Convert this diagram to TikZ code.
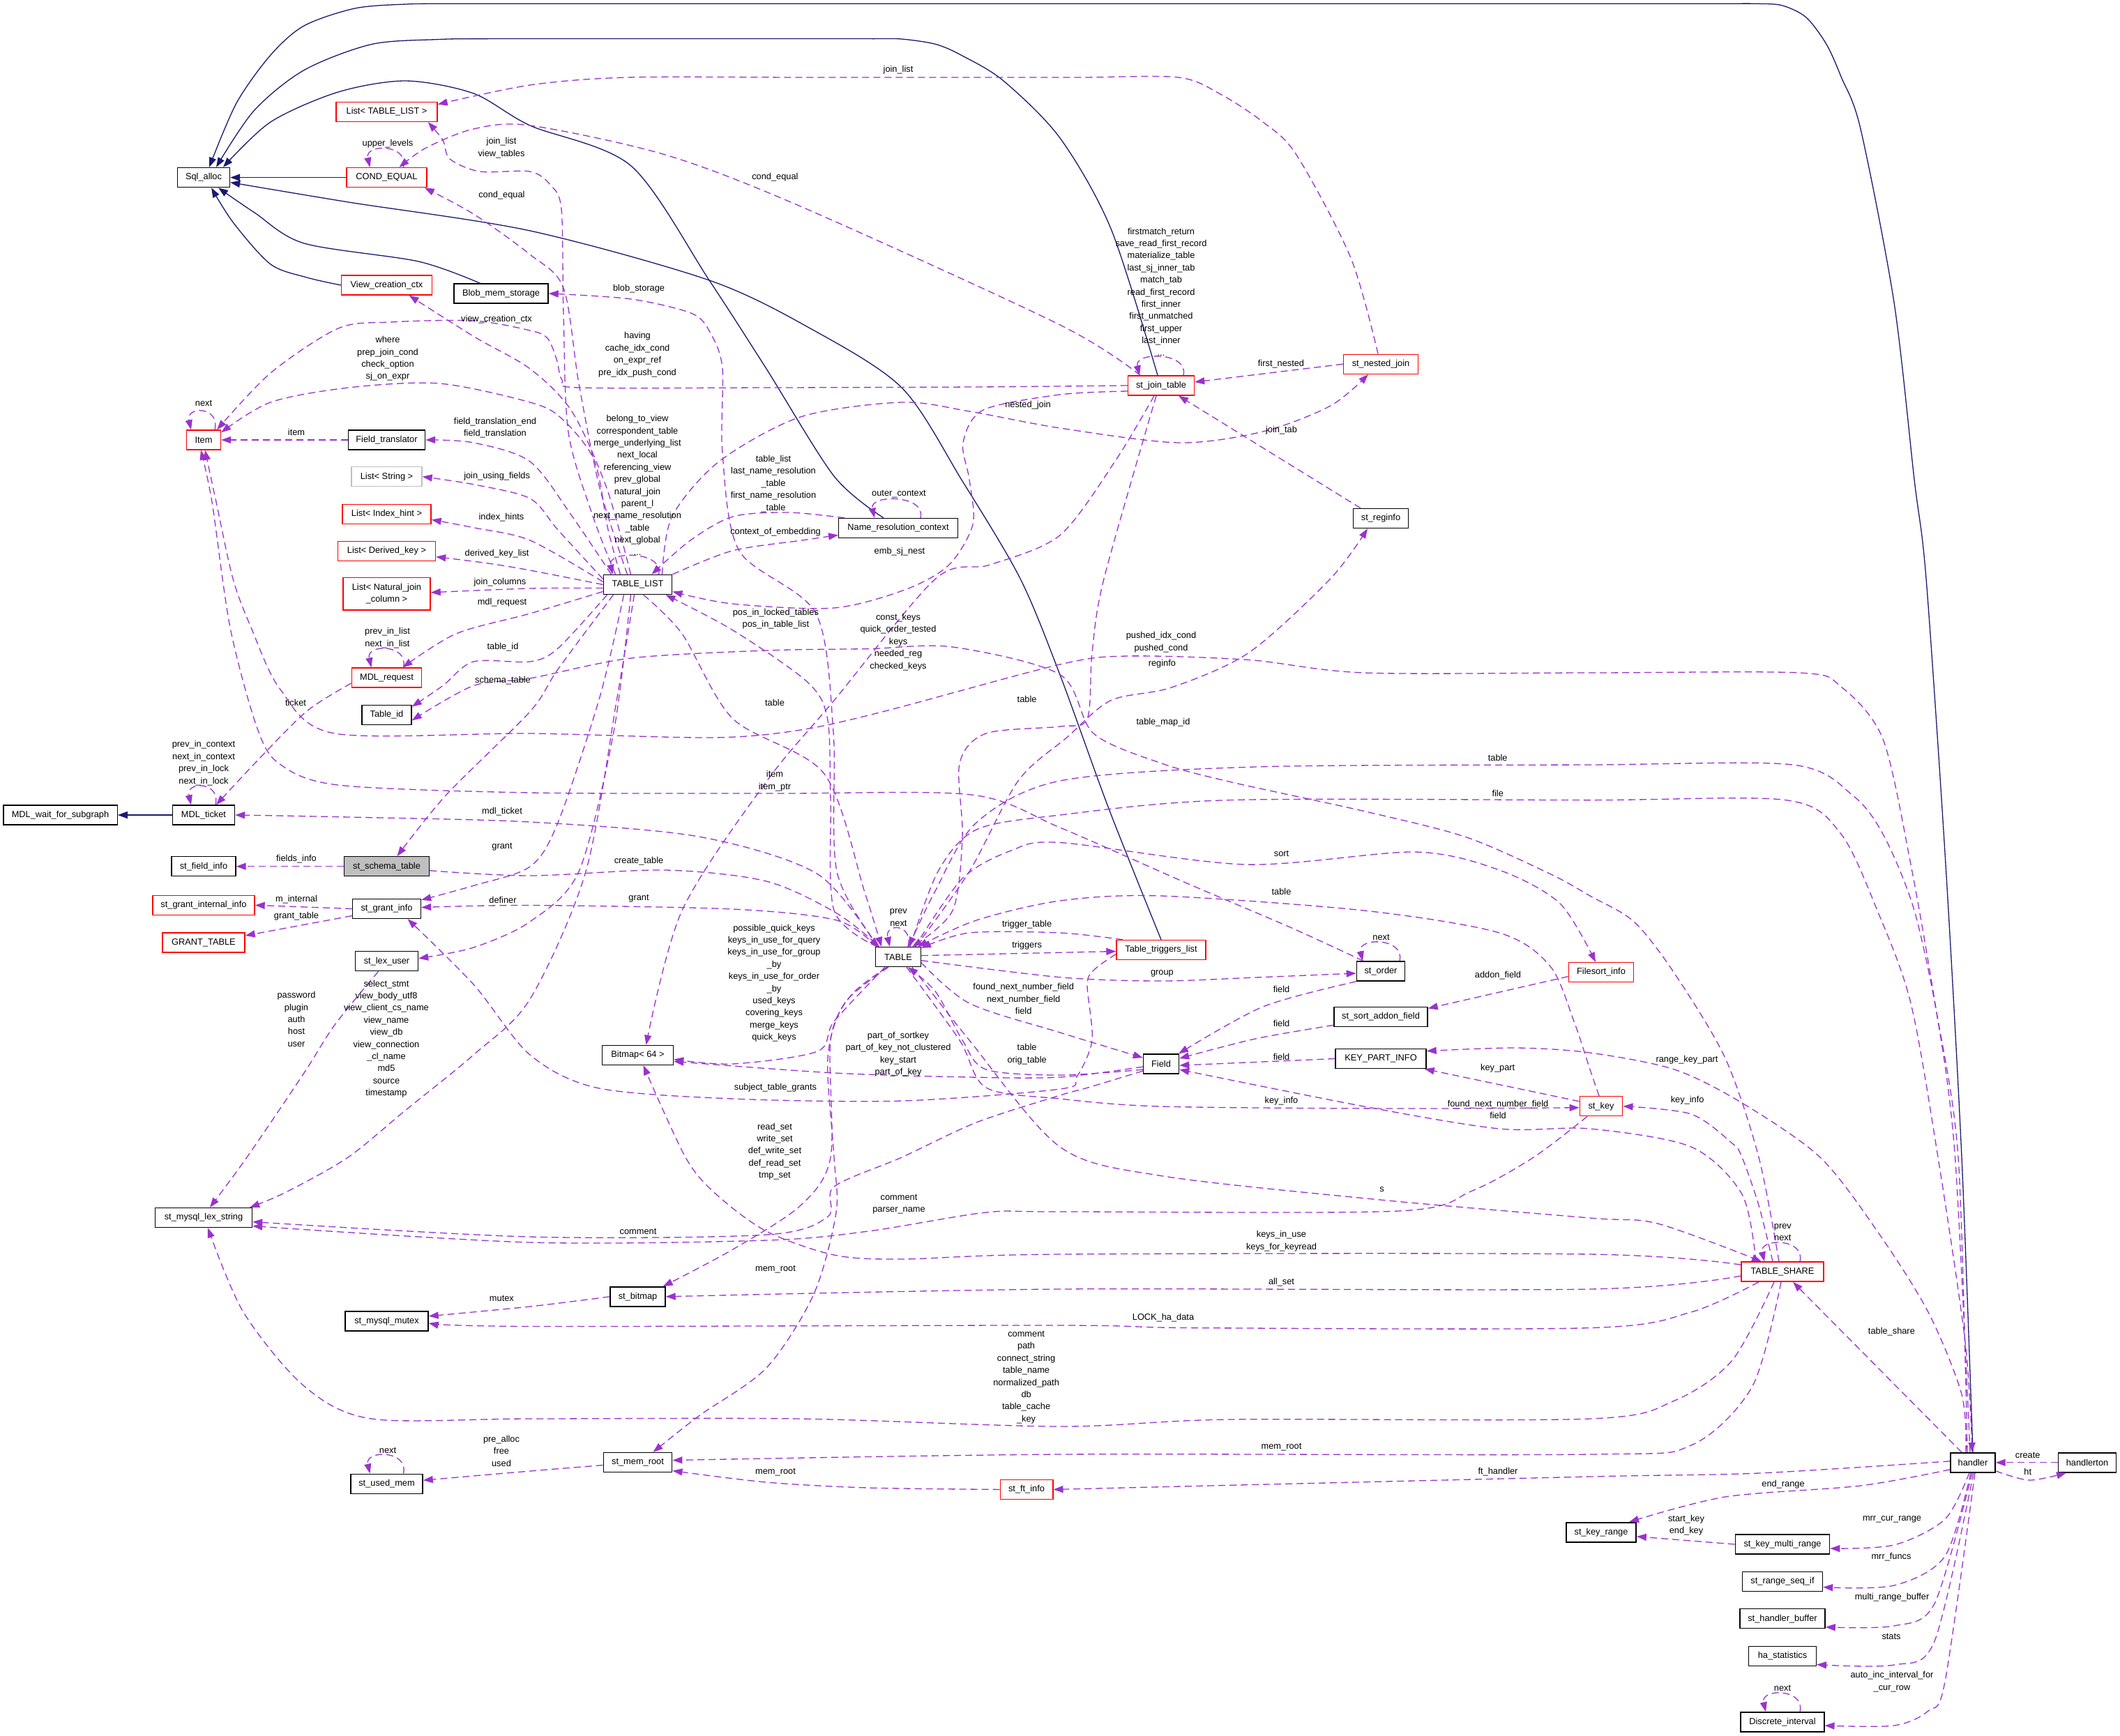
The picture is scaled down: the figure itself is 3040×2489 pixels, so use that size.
\documentclass[tikz,border=0pt]{standalone}
\usepackage{fontspec}
\setmainfont{Liberation Sans}
\usetikzlibrary{arrows.meta}
\definecolor{edgep}{HTML}{9A32CD}
\definecolor{navyc}{HTML}{191970}
\definecolor{greyb}{HTML}{BFBFBF}
\newcommand{\dfont}{\fontsize{12.8pt}{17.4pt}\selectfont}
\newcommand{\myloop}[3]{\draw[dep] ([xshift=#2pt]#1.north) .. controls ([xshift=#2pt+8pt,yshift=34pt]#1.north) and ([xshift=#3pt-8pt,yshift=34pt]#1.north) .. ([xshift=#3pt]#1.north);}
\begin{document}
\begin{tikzpicture}[x=1pt,y=-1pt,
 box/.style={draw=black,line width=1.4pt,rectangle,minimum height=28pt,inner sep=0pt,font=\dfont},
 rbox/.style={box,draw=red},
 gbox/.style={box,draw=greyb},
 dep/.style={draw=edgep,line width=1.3pt,dash pattern=on 10pt off 6pt,-{Triangle[length=14pt,width=10pt]}},
 inh/.style={draw=navyc,line width=1.3pt,-{Triangle[length=14pt,width=10pt]}},
 lbl/.style={font=\dfont,align=center,inner sep=0pt}]
\fill[white] (0,0) rectangle (3040,2489);
\useasboundingbox (0,0) rectangle (3040,2489);
% nodes
\node[box,minimum width=75pt] (Sql) at (292,254.6) {Sql\_alloc};
\node[rbox,minimum width=145pt] (ListTL) at (554.5,160.4) {List< TABLE\_LIST >};
\node[rbox,minimum width=115pt] (CondEq) at (554.5,254.6) {COND\_EQUAL};
\node[rbox,minimum width=130pt] (ViewCtx) at (554.5,409) {View\_creation\_ctx};
\node[box,minimum width=135pt] (Blob) at (718.5,421) {Blob\_mem\_storage};
\node[rbox,minimum width=49pt] (Item) at (292,631) {Item};
\node[box,minimum width=110pt] (FieldTr) at (554.5,631) {Field\_translator};
\node[gbox,minimum width=101pt] (ListStr) at (554.5,683.7) {List< String >};
\node[rbox,minimum width=127pt] (ListIH) at (554.5,737.4) {List< Index\_hint >};
\node[rbox,minimum width=140pt] (ListDK) at (554.5,790.6) {List< Derived\_key >};
\node[rbox,minimum width=125pt,minimum height=46.5pt,align=center] (ListNJ) at (554.5,851.8) {List< Natural\_join\\\_column >};
\node[rbox,minimum width=100.5pt] (MDLreq) at (554.5,972) {MDL\_request};
\node[box,minimum width=71pt] (TableId) at (554.5,1025.3) {Table\_id};
\node[box,minimum width=163.4pt] (MDLwait) at (86.5,1169) {MDL\_wait\_for\_subgraph};
\node[box,minimum width=89pt] (MDLticket) at (292,1169) {MDL\_ticket};
\node[box,minimum width=92pt] (FieldInfo) at (292,1242.7) {st\_field\_info};
\node[box,fill=greyb,minimum width=122pt] (Schema) at (554.5,1242.7) {st\_schema\_table};
\node[rbox,minimum width=146pt] (GrantInt) at (292,1298.3) {st\_grant\_internal\_info};
\node[box,minimum width=98pt] (GrantInfo) at (554.5,1303.5) {st\_grant\_info};
\node[rbox,minimum width=118pt] (GrantTable) at (292,1352) {GRANT\_TABLE};
\node[box,minimum width=90pt] (LexUser) at (554.5,1378.7) {st\_lex\_user};
\node[box,minimum width=139pt] (LexStr) at (292,1746.5) {st\_mysql\_lex\_string};
\node[box,minimum width=119pt] (Mutex) at (554.5,1894.8) {st\_mysql\_mutex};
\node[box,minimum width=103pt] (UsedMem) at (554.5,2128.2) {st\_used\_mem};
\node[box,minimum width=98.4pt] (TL) at (914.5,838.5) {TABLE\_LIST};
\node[box,minimum width=170.6pt] (NRC) at (1288,757.5) {Name\_resolution\_context};
\node[rbox,minimum width=95pt] (JT) at (1665,553) {st\_join\_table};
\node[rbox,minimum width=107pt] (NJ) at (1980,522.2) {st\_nested\_join};
\node[box,minimum width=79pt] (Reg) at (1980,743.5) {st\_reginfo};
\node[box,minimum width=64.5pt] (TABLE) at (1288,1372.6) {TABLE};
\node[box,minimum width=102pt] (Bitmap) at (914.5,1513.4) {Bitmap< 64 >};
\node[rbox,minimum width=128pt] (Trig) at (1665,1362.5) {Table\_triggers\_list};
\node[box,minimum width=69.3pt] (Order) at (1980,1393) {st\_order};
\node[box,minimum width=134pt] (Addon) at (1980,1458.4) {st\_sort\_addon\_field};
\node[box,minimum width=51pt] (Field) at (1665,1526.1) {Field};
\node[box,minimum width=130pt] (KPI) at (1980,1518.5) {KEY\_PART\_INFO};
\node[rbox,minimum width=93.4pt] (Filesort) at (2296,1394.6) {Filesort\_info};
\node[rbox,minimum width=61.5pt] (Key) at (2296,1586.7) {st\_key};
\node[box,minimum width=79pt] (StBitmap) at (914.5,1859.8) {st\_bitmap};
\node[box,minimum width=98.4pt] (MemRoot) at (914.5,2097.5) {st\_mem\_root};
\node[rbox,minimum width=75.6pt] (FtInfo) at (1472,2136.4) {st\_ft\_info};
\node[rbox,minimum width=118.3pt] (Share) at (2556,1824.1) {TABLE\_SHARE};
\node[box,minimum width=64pt] (Handler) at (2829,2097.8) {handler};
\node[box,minimum width=83.3pt] (Handlerton) at (2993,2097.8) {handlerton};
\node[box,minimum width=100.3pt] (KeyRange) at (2296,2197.8) {st\_key\_range};
\node[box,minimum width=135.3pt] (KMR) at (2556,2215) {st\_key\_multi\_range};
\node[box,minimum width=115pt] (RSI) at (2556,2268.5) {st\_range\_seq\_if};
\node[box,minimum width=122.2pt] (HB) at (2556,2321.7) {st\_handler\_buffer};
\node[box,minimum width=96.5pt] (HaStat) at (2556,2375.5) {ha\_statistics};
\node[box,minimum width=119.7pt] (DI) at (2556,2470) {Discrete\_interval};
% inheritance
\draw[inh] (CondEq.west) -- (Sql.east);
\draw[inh] plot[smooth] coordinates {(Trig.north) (1590,1160) (1520,968) (1463,830) (1380,690) (1293,556) (1160,470) (1017,402) (760,331) (500,290) ([yshift=-7pt]Sql.east)};
\draw[inh] plot[smooth] coordinates {(ViewCtx.west) (440,398) (388,379) (335,320) ([xshift=11pt]Sql.south)};
\draw[inh] plot[smooth] coordinates {([xshift=-30pt]Blob.north) (600,375) (436,349) (365,305) ([xshift=21pt]Sql.south)};
\draw[inh] plot[smooth] coordinates {([xshift=-21pt]NRC.north) (1196,683) (1099,529) (1017,402) (905,238) (760,180) (679,134) (582,116) (485,132) (388,175) ([xshift=28pt]Sql.north)};
\draw[inh] plot[smooth] coordinates {([xshift=-5pt]JT.north) (1593,328) (1520,198) (1439,116) (1380,80) (1342,63.5) (1293,56) (1250,55.6) (1150,55.6) (1000,55.6) (850,55.6) (700,55.6) (630,56.5) (533,63.5) (436,100.6) (364,159) ([xshift=18pt]Sql.north)};
\draw[inh] plot[smooth] coordinates {(Handler.north) (2813,1660) (2790,1240) (2762,830) (2745,688) (2716,434) (2668,185) (2640,110) (2619,63.5) (2590,25) (2556,8) (2520,5.3) (2450,5.3) (2200,5.3) (1900,5.3) (1600,5.3) (1300,5.3) (1000,5.3) (800,5.3) (650,5.3) (582,6) (509,12) (436,37) (388,79) (339,148) ([xshift=8pt]Sql.north)};
\draw[inh] (MDLticket.west) -- (MDLwait.east);
% Item
\myloop{Item}{16}{-18}
\draw[dep] (FieldTr.west) -- (Item.east);
\draw[dep] plot[smooth] coordinates {(JT.west) (1400,555) (1100,556) (830,556) (806,545) (798,515) (785,485) (760,474) (679,460) (560,462) (485,471) (388,535) ([xshift=-6pt]Item.north east)};
\draw[dep] plot[smooth] coordinates {([xshift=-25pt]TL.north) (872,760) (852,660) (805,600) (760,577) (630,550) (500,556) (388,577) ([yshift=-4pt]Item.north east)};
\draw[dep] plot[smooth] coordinates {([xshift=-8pt]Handler.north) (2808,1660) (2775,1440) (2740,1240) (2700,1060) (2640,985) (2580,965) (2280,965) (1956,965) (1791,946.5) (1617,941) (1520,953) (1269,1020) (1148,1047) (1022,1058) (760,1052) (480,1052) (402,989) (360,900) (334,830) (310,720) ([xshift=2pt]Item.south)};
\draw[dep] plot[smooth] coordinates {([xshift=-25pt]Order.north) (1850,1330) (1700,1266) (1520,1187) (1393,1140) (1111,1138) (760,1137) (485,1126) (400,1095) (368,1042) (330,900) (304,720) ([xshift=-4pt]Item.south)};
% ListTL, CondEq, ViewCtx, Blob
\draw[dep] plot[smooth] coordinates {([xshift=-32pt]TL.north) (850,740) (815,620) (808,450) (805,300) (789,265) (760,246) (688,246) (645,228) (635,201) ([xshift=-14pt]ListTL.south east)};
\draw[dep] plot[smooth] coordinates {([xshift=-4pt]NJ.north) (1937,370) (1859,222) (1811,175) (1750,135) (1690,111) (1550,111) (1400,111) (1150,111) (900,111) (760,122) ([yshift=-4pt]ListTL.north east)};
\myloop{CondEq}{24}{-24}
\draw[dep] plot[smooth] coordinates {([xshift=-30pt]JT.north) (1520,466) (1148,296) (954,222) (760,180) (679,185) (611,212) ([xshift=18pt]CondEq.north)};
\draw[dep] plot[smooth] coordinates {([xshift=-15pt]TL.north) (860,700) (830,550) (808,413) (760,365) (679,307) ([xshift=-4pt]CondEq.south east)};
\draw[dep] plot[smooth] coordinates {([xshift=-10pt]TL.north) (870,700) (820,590) (760,529) (680,483) ([xshift=32pt]ViewCtx.south)};
\draw[dep] plot[smooth] coordinates {([xshift=-28pt]TABLE.north) (1200,1250) (1195,1050) (1170,880) (1060,790) (1036,650) (1036,529) (1020,480) (993,450) (905,429) (Blob.east)};
% TL to left column
\draw[dep] plot[smooth] coordinates {([xshift=-38pt]TL.north) (820,740) (760,662) (679,635) (FieldTr.east)};
\draw[dep] plot[smooth] coordinates {([yshift=8pt]TL.west) (800,760) (760,715) (680,695) (ListStr.east)};
\draw[dep] plot[smooth] coordinates {([yshift=4pt]TL.west) (760,775) (680,757) ([yshift=-8pt]ListIH.east)};
\draw[dep] plot[smooth] coordinates {(TL.west) (760,818) (700,808) ([yshift=-8pt]ListDK.east)};
\draw[dep] plot[smooth] coordinates {([yshift=-5pt]TL.west) (760,844) ([yshift=2pt]ListNJ.east)};
\draw[dep] plot[smooth] coordinates {([yshift=-10pt]TL.west) (760,880) (654,909) ([xshift=23pt]MDLreq.north)};
\draw[dep] plot[smooth] coordinates {([xshift=-44pt]TL.south) (800,930) (760,949) (679,949) (635,983.5) ([yshift=-3pt]TableId.north east)};
\draw[dep] plot[smooth] coordinates {([xshift=-5pt]Share.north) (2522,1660) (2474,1518) (2401,1396) (2343,1322) (2280,1285) (2223,1253.5) (2102,1200.6) (1956,1163.5) (1762,1121) (1665,1094.7) (1568,1052) (1520,967.6) (1366,928) (1245,930.6) (1099,933) (905,944) (760,973) (679,983.5) ([yshift=-8pt]TableId.east)};
\draw[dep] plot[smooth] coordinates {([xshift=-35pt]TL.south) (800,960) (760,1020.6) (640,1140) ([xshift=15pt]Schema.north)};
\draw[dep] plot[smooth] coordinates {([xshift=-20pt]TL.south) (860,1000) (800,1180) (760,1243) (680,1270) ([yshift=-2pt]GrantInfo.north east)};
\draw[dep] plot[smooth] coordinates {([xshift=-10pt]TL.south) (880,1050) (830,1250) (760,1322) (679,1359) ([yshift=4pt]LexUser.east)};
\draw[dep] plot[smooth] coordinates {([xshift=-5pt]TL.south) (885,1000) (840,1250) (760,1433) (679,1513) (582,1592) (499,1660) (410,1710) ([xshift=-4pt]LexStr.north east)};
\draw[dep] plot[smooth] coordinates {([xshift=8pt]TL.south) (978,909) (1051,1031) (1182,1110) (1240,1280) ([xshift=-24pt]TABLE.north)};
\draw[dep] plot[smooth] coordinates {([xshift=-30pt]TABLE.north) (1196,1306) (1191,1147.6) (1186.6,1031) (1157.5,978) (1051,904) ([xshift=40pt]TL.south)};
\myloop{TL}{30}{-36}
\draw[dep] plot[smooth] coordinates {([xshift=-77pt]NRC.north) (1130,735) (1051,741) (990,775) ([xshift=20pt]TL.north)};
\draw[dep] plot[smooth] coordinates {(TL.north east) (1050,790) (1150,775) ([yshift=-10pt]NRC.west)};
\myloop{NRC}{32}{-34}
\draw[dep] plot[smooth] coordinates {([xshift=35pt]TL.north) (963.6,741) (1031,662) (1148,598) (1293,577) (1390,590) (1520,614) (1690,635) (1811,619) (1908,582) ([xshift=-18pt]NJ.south)};
\draw[dep] plot[smooth] coordinates {([yshift=-8pt]JT.west) (1520,566) (1410,588) (1381,635) (1390,688) (1395,752) (1361,810) (1300,845) (1196,872) (1050,866) ([yshift=-10pt]TL.east)};
% join table area
\myloop{JT}{32}{-31}
\draw[dep] (NJ.west) -- ([yshift=5pt]JT.east);
\draw[dep] ([xshift=-29pt]Reg.north) -- ([xshift=25pt]JT.south);
\draw[dep] plot[smooth] coordinates {([xshift=25pt]TABLE.north) (1390,1250) (1460,1120) (1530,1057.6) (1592.7,1004.7) (1680,986) (1791,936) (1907.8,830) ([xshift=-19pt]Reg.south)};
% MDL
\draw[dep] plot[smooth] coordinates {([xshift=-30pt]TABLE.north) (1172,1253.5) (1002,1200) (760,1179) (500,1172) (MDLticket.east)};
\draw[dep] plot[smooth] coordinates {([yshift=-8pt]MDLreq.west) (440,1020) (370,1090) ([xshift=18pt]MDLticket.north)};
\myloop{MDLreq}{24}{-22}
\myloop{MDLticket}{17}{-18}
\draw[dep] (Schema.west) -- (FieldInfo.east);
\draw[dep] plot[smooth] coordinates {([yshift=-6pt]Schema.east) (760,1256) (954,1248) (1099,1264) (1200,1310) ([xshift=-27pt]TABLE.north)};
\draw[dep] plot[smooth] coordinates {([xshift=-31pt]TABLE.north) (1200,1320) (1051,1304) (760,1298.5) ([yshift=2pt]GrantInfo.east)};
\draw[dep] (GrantInfo.west) -- (GrantInt.east);
\draw[dep] ([yshift=-10pt]GrantInfo.west) -- ([yshift=10pt]GrantTable.east);
\draw[dep] plot[smooth] coordinates {([xshift=-12pt]LexUser.south) (480,1470) (436,1539) (354,1660) ([xshift=9pt]LexStr.north)};
\draw[dep] plot[smooth] coordinates {([yshift=-6pt]Trig.west) (1570,1390) (1559,1412) (1566,1491.7) (1544,1544.7) (1520,1562) (1293,1579) (1051,1576) (857,1560.5) (760,1513) (679,1412) ([xshift=30pt]GrantInfo.south)};
% TABLE neighbourhood
\draw[dep] ([yshift=2pt]TABLE.east) -- ([yshift=-2pt]Trig.west);
\draw[dep] plot[smooth] coordinates {([xshift=-55pt]Trig.north) (1520,1338) (1390,1338) ([yshift=-2pt]TABLE.north east)};
\draw[dep] plot[smooth] coordinates {([xshift=-7pt]JT.south) (1583,830) (1566,936) (1559,1031) (1520,1042) (1414,1052) (1376,1095) (1380,1200) (1366,1306) ([xshift=20pt]TABLE.north)};
\draw[dep] plot[smooth] coordinates {([xshift=-4pt]Handler.north) (2803.5,1660) (2779,1465) (2745,1306) (2702,1200) (2658,1142) (2571,1097) (2280,1097) (1800,1100) (1520,1120) (1400,1180) (1340,1280) ([xshift=15pt]TABLE.north)};
\draw[dep] plot[smooth] coordinates {([xshift=17pt]TABLE.north) (1345,1250) (1400,1190) (1520,1169) (1762,1147.6) (2280,1147.6) (2561,1147.6) (2639,1195) (2692,1306) (2740,1439) (2779,1660) (2818,1925) ([xshift=-1pt]Handler.north)};
\draw[dep] plot[smooth] coordinates {([yshift=-5pt]TABLE.east) (1520,1401.7) (1665,1407) (1800,1402) ([yshift=-3pt]Order.west)};
\draw[dep] plot[smooth] coordinates {([xshift=24pt]TABLE.north) (1380,1260) (1450,1220) (1520,1208.5) (1787,1240) (2029,1222) (2150,1248) (2237,1296) ([xshift=-8pt]Filesort.north)};
\draw[dep] ([yshift=-6pt]Filesort.west) -- ([yshift=12pt]Addon.east);
\myloop{Order}{27}{-26}
\draw[dep] plot[smooth] coordinates {([xshift=-35pt]Order.south) (1811,1444) ([xshift=25pt]Field.north)};
\draw[dep] plot[smooth] coordinates {([yshift=-12pt]Addon.west) (1800,1490) ([yshift=8pt]Field.east)};
\draw[dep] (KPI.west) -- ([yshift=-2pt]Field.east);
\draw[dep] ([yshift=7pt]Key.west) -- ([xshift=-3pt]KPI.south east);
\draw[dep] plot[smooth] coordinates {([xshift=-38pt]Share.north) (2498,1713) (2425,1645) (2280,1619) (2150,1619) (1956,1587) ([yshift=-8pt]Field.east)};
\draw[dep] plot[smooth] coordinates {([yshift=-8pt]TABLE.east) (1390,1439) (1520,1481) ([yshift=9pt]Field.west)};
\draw[dep] plot[smooth] coordinates {([yshift=-8pt]Field.west) (1520,1542) (1414,1534) (1380,1492) (1342,1423) ([xshift=14pt]TABLE.south)};
\draw[dep] plot[smooth] coordinates {([xshift=-3pt]Key.north) (2280,1534) (2257,1465) (2223,1386) (2150,1338) (1956,1306) (1665,1285) (1520,1292) (1400,1320) ([xshift=28pt]TABLE.north)};
\draw[dep] plot[smooth] coordinates {([xshift=12pt]TABLE.south) (1376,1492) (1414,1560) (1520,1576) (1665,1587) (2000,1590) ([yshift=-2pt]Key.west)};
\draw[dep] plot[smooth] coordinates {([xshift=-14pt]Share.north) (2522,1729) (2498,1660) (2484,1640) (2425,1598) (Key.east)};
\draw[dep] plot[smooth] coordinates {([xshift=-10pt]Handler.north) (2813,2000) (2765,1882) (2692,1766) (2610,1660) (2498,1582) (2401,1534) (2280,1510) (2174,1503) ([yshift=11pt]KPI.east)};
\myloop{TABLE}{14}{-12}
% Bitmap
\draw[dep] plot[smooth] coordinates {([xshift=-19pt]TABLE.south) (1196,1465) (1172,1508) (1051,1526) ([yshift=-6pt]Bitmap.east)};
\draw[dep] plot[smooth] coordinates {([xshift=-10pt]JT.south) (1600,660) (1520,767.6) (1420,810) (1341.7,830) (1196,1004.7) (1099,1121) (978,1306) ([xshift=12pt]Bitmap.north)};
\draw[dep] plot[smooth] coordinates {([yshift=-4pt]Field.west) (1520,1545) (1390,1545) (1196,1539) ([yshift=-9pt]Bitmap.east)};
\draw[dep] plot[smooth] coordinates {([yshift=10pt]Share.west) (2280,1799) (1520,1799) (1293,1806) (1196,1800) (1099,1766) (1027,1713) (983,1660) ([xshift=8pt]Bitmap.south)};
% st_bitmap, mutex
\draw[dep] plot[smooth] coordinates {([xshift=-16pt]TABLE.south) (1220,1428) (1191,1492) (1191,1660) (1148,1729) (1051,1792) ([xshift=-4pt]StBitmap.north east)};
\draw[dep] plot[smooth] coordinates {([yshift=-6pt]Share.west) (2280,1849) (1520,1849) (StBitmap.east)};
\draw[dep] plot[smooth] coordinates {(StBitmap.west) (760,1874) ([yshift=7pt]Mutex.east)};
\draw[dep] plot[smooth] coordinates {([xshift=-34pt]Share.south) (2425,1882) (2280,1904.6) (1714,1904.6) (1520,1901) (760,1902.5) ([yshift=-3pt]Mutex.east)};
% TABLE_SHARE
\draw[dep] plot[smooth] coordinates {([xshift=20pt]TABLE.south) (1390,1492) (1520,1645) (1665,1686.5) (1980,1721) (2280,1747) (2377,1755) ([xshift=-30pt]Share.north)};
\draw[dep] ([xshift=-16pt]Handler.north) -- ([xshift=15pt]Share.south);
\myloop{Share}{25}{-26}
% mem_root
\draw[dep] plot[smooth] coordinates {([xshift=-14pt]TABLE.south) (1211,1439) (1187,1518) (1196,1660) (1199,1739) (1167,1856) (1099,1962) (1002,2031) ([xshift=22pt]MemRoot.north)};
\draw[dep] plot[smooth] coordinates {([xshift=-2pt]Share.south) (2513,1988) (2425,2073) (2280,2086) (1520,2086) ([yshift=3pt]MemRoot.east)};
\draw[dep] plot[smooth] coordinates {([xshift=-12pt]Share.south) (2484,1951) (2401,2009) (2280,2035) (1762,2036) (1520,2046) (1148,2035) (760,2035) (533,2035) (436,1988) (349,1882) ([xshift=6pt]LexStr.south)};
\draw[dep] plot[smooth] coordinates {([yshift=-4pt]MemRoot.west) (760,2110) ([yshift=5pt]UsedMem.east)};
\myloop{UsedMem}{24}{-24}
\draw[dep] plot[smooth] coordinates {(FtInfo.west) (1245,2134) (1099,2126) ([yshift=-12pt]MemRoot.east)};
\draw[dep] plot[smooth] coordinates {([yshift=2pt]Handler.west) (2522,2113) (2280,2118) (FtInfo.east)};
% handler fan-out
\draw[dep] plot[smooth] coordinates {([yshift=-10pt]Handler.west) (2668,2131) (2474,2147) ([xshift=40pt]KeyRange.north)};
\draw[dep] (KMR.west) -- ([yshift=-6pt]KeyRange.east);
\draw[dep] plot[smooth] coordinates {([xshift=-5pt]Handler.south) (2789,2179) (2716,2216) ([yshift=-6pt]KMR.east)};
\draw[dep] plot[smooth] coordinates {([xshift=-3pt]Handler.south) (2789,2232) (2716,2274) ([yshift=-8pt]RSI.east)};
\draw[dep] plot[smooth] coordinates {([xshift=-1pt]Handler.south) (2774,2300) (2716,2332) ([yshift=-12pt]HB.east)};
\draw[dep] plot[smooth] coordinates {([xshift=1pt]Handler.south) (2774,2354) (2716,2388) ([yshift=-12pt]HaStat.east)};
\draw[dep] plot[smooth] coordinates {([xshift=3pt]Handler.south) (2789,2412) (2765,2454) (2716,2475) ([yshift=-5pt]DI.east)};
\myloop{DI}{25}{-24}
\draw[dep] (Handlerton.west) -- (Handler.east);
\draw[dep] plot[smooth] coordinates {([yshift=-12pt]Handler.east) (2910,2123) ([xshift=-30pt]Handlerton.south)};
% lex string from Field and st_key
\draw[dep] plot[smooth] coordinates {([yshift=-10pt]Field.west) (1560,1560) (1520,1571) (1400,1610) (1293,1660) (1196,1702) (1187,1745) (1099,1771) (760,1774) ([yshift=-6pt]LexStr.east)};
\draw[dep] plot[smooth] coordinates {([xshift=-20pt]Key.south) (2199,1660) (2111,1708) (2005,1737) (1520,1738) (1414,1739) (1245,1766) (1099,1779) (760,1782) ([yshift=-12pt]LexStr.east)};
% labels
\node[lbl] (l1) at (292,578) {next};
\node[lbl] (l2) at (425,620) {item};
\node[lbl] (l3) at (914,508.7) {having\\cache\_idx\_cond\\on\_expr\_ref\\pre\_idx\_push\_cond};
\node[lbl] (l4) at (556,514.5) {where\\prep\_join\_cond\\check\_option\\sj\_on\_expr};
\node[lbl] (l5) at (1665,921) {pushed\_idx\_cond\\pushed\_cond};
\node[lbl] (l6) at (1666.4,952) {reginfo};
\node[lbl] (l7) at (1111,1120) {item\\item\_ptr};
\node[lbl] (l8) at (719,212) {join\_list\\view\_tables};
\node[lbl] (l9) at (1288,100.6) {join\_list};
\node[lbl] (l10) at (556,206.5) {upper\_levels};
\node[lbl] (l11) at (1111.4,254.6) {cond\_equal};
\node[lbl] (l12) at (719.4,280.6) {cond\_equal};
\node[lbl] (l13) at (712,458.5) {view\_creation\_ctx};
\node[lbl] (l14) at (916,414.5) {blob\_storage};
\node[lbl] (l15) at (710,613.5) {field\_translation\_end\\field\_translation};
\node[lbl] (l16) at (712.6,683) {join\_using\_fields};
\node[lbl] (l17) at (719,742) {index\_hints};
\node[lbl] (l18) at (712.6,794) {derived\_key\_list};
\node[lbl] (l19) at (717,835) {join\_columns};
\node[lbl] (l20) at (720,864) {mdl\_request};
\node[lbl] (l21) at (721,928.5) {table\_id};
\node[lbl] (l22) at (1668,1036.5) {table\_map\_id};
\node[lbl] (l23) at (721,976.6) {schema\_table};
\node[lbl] (l24) at (720,1215) {grant};
\node[lbl] (l25) at (721,1291) {definer};
\node[lbl] (l26) at (554,1490) {select\_stmt\\view\_body\_utf8\\view\_client\_cs\_name\\view\_name\\view\_db\\view\_connection\\\_cl\_name\\md5\\source\\timestamp};
\node[lbl] (l27) at (1111,1008) {table};
\node[lbl] (l28) at (1112.4,887.5) {pos\_in\_locked\_tables\\pos\_in\_table\_list};
\node[lbl] (l29) at (914,695.8) {belong\_to\_view\\correspondent\_table\\merge\_underlying\_list\\next\_local\\referencing\_view\\prev\_global\\natural\_join\\parent\_l\\next\_name\_resolution\\\_table\\next\_global\\...};
\node[lbl] (l30) at (1109,694) {table\_list\\last\_name\_resolution\\\_table\\first\_name\_resolution\\\_table};
\node[lbl] (l31) at (1112,763) {context\_of\_embedding};
\node[lbl] (l32) at (1289,708.6) {outer\_context};
\node[lbl] (l33) at (1474,581) {nested\_join};
\node[lbl] (l34) at (1290,791) {emb\_sj\_nest};
\node[lbl] (l35) at (1665,418.5) {firstmatch\_return\\save\_read\_first\_record\\materialize\_table\\last\_sj\_inner\_tab\\match\_tab\\read\_first\_record\\first\_inner\\first\_unmatched\\first\_upper\\last\_inner\\...};
\node[lbl] (l36) at (1837,522.5) {first\_nested};
\node[lbl] (l37) at (1837.5,616.7) {join\_tab};
\node[lbl] (l38) at (720,1164.6) {mdl\_ticket};
\node[lbl] (l39) at (424,1008) {ticket};
\node[lbl] (l40) at (555.5,915) {prev\_in\_list\\next\_in\_list};
\node[lbl] (l41) at (292,1094.6) {prev\_in\_context\\next\_in\_context\\prev\_in\_lock\\next\_in\_lock};
\node[lbl] (l42) at (425,1232.3) {fields\_info};
\node[lbl] (l43) at (916,1235.5) {create\_table};
\node[lbl] (l44) at (916,1288.5) {grant};
\node[lbl] (l45) at (425,1290.6) {m\_internal};
\node[lbl] (l46) at (425,1314.4) {grant\_table};
\node[lbl] (l47) at (425,1462) {password\\plugin\\auth\\host\\user};
\node[lbl] (l48) at (1112,1560.5) {subject\_table\_grants};
\node[lbl] (l49) at (1472.6,1355.7) {triggers};
\node[lbl] (l50) at (1472.6,1326.6) {trigger\_table};
\node[lbl] (l51) at (1472.6,1003) {table};
\node[lbl] (l52) at (2147.7,1087) {table};
\node[lbl] (l53) at (2147.7,1138) {file};
\node[lbl] (l54) at (1666.4,1396.4) {group};
\node[lbl] (l55) at (1837.5,1224.4) {sort};
\node[lbl] (l56) at (2148,1399) {addon\_field};
\node[lbl] (l57) at (1837.5,1419) {field};
\node[lbl] (l58) at (1837.5,1468.4) {field};
\node[lbl] (l59) at (1837.5,1515.5) {field};
\node[lbl] (l60) at (2147.7,1532) {key\_part};
\node[lbl] (l61) at (2148,1591.5) {found\_next\_number\_field\\field};
\node[lbl] (l62) at (1467.7,1432.5) {found\_next\_number\_field\\next\_number\_field\\field};
\node[lbl] (l63) at (1472.6,1512) {table\\orig\_table};
\node[lbl] (l64) at (1837.5,1279.4) {table};
\node[lbl] (l65) at (1837.5,1579.6) {key\_info};
\node[lbl] (l66) at (2419.6,1578.5) {key\_info};
\node[lbl] (l67) at (2419,1519.8) {range\_key\_part};
\node[lbl] (l68) at (1110,1410) {possible\_quick\_keys\\keys\_in\_use\_for\_query\\keys\_in\_use\_for\_group\\\_by\\keys\_in\_use\_for\_order\\\_by\\used\_keys\\covering\_keys\\merge\_keys\\quick\_keys};
\node[lbl] (l69) at (1288,921) {const\_keys\\quick\_order\_tested\\keys\\needed\_reg\\checked\_keys};
\node[lbl] (l70) at (1288,1512) {part\_of\_sortkey\\part\_of\_key\_not\_clustered\\key\_start\\part\_of\_key};
\node[lbl] (l71) at (1837.5,1780) {keys\_in\_use\\keys\_for\_keyread};
\node[lbl] (l72) at (1111,1651.6) {read\_set\\write\_set\\def\_write\_set\\def\_read\_set\\tmp\_set};
\node[lbl] (l73) at (1837.5,1839.5) {all\_set};
\node[lbl] (l74) at (719.4,1862.8) {mutex};
\node[lbl] (l75) at (1668,1890.3) {LOCK\_ha\_data};
\node[lbl] (l76) at (1981.5,1706.6) {s};
\node[lbl] (l77) at (2712.4,1910.4) {table\_share};
\node[lbl] (l78) at (2556.3,1767.5) {prev\\next};
\node[lbl] (l79) at (1112,1820.4) {mem\_root};
\node[lbl] (l80) at (1837.5,2076) {mem\_root};
\node[lbl] (l81) at (1471.6,1975.5) {comment\\path\\connect\_string\\table\_name\\normalized\_path\\db\\table\_cache\\\_key};
\node[lbl] (l82) at (719,2081) {pre\_alloc\\free\\used};
\node[lbl] (l83) at (556,2080) {next};
\node[lbl] (l84) at (1112,2111.6) {mem\_root};
\node[lbl] (l85) at (2148,2111.6) {ft\_handler};
\node[lbl] (l86) at (2557,2129) {end\_range};
\node[lbl] (l87) at (2418,2187.5) {start\_key\\end\_key};
\node[lbl] (l88) at (2713,2179) {mrr\_cur\_range};
\node[lbl] (l89) at (2712,2232.8) {mrr\_funcs};
\node[lbl] (l90) at (2713,2291) {multi\_range\_buffer};
\node[lbl] (l91) at (2712,2347) {stats};
\node[lbl] (l92) at (2713,2412) {auto\_inc\_interval\_for\\\_cur\_row};
\node[lbl] (l93) at (2556,2421) {next};
\node[lbl] (l94) at (2907.7,2087.7) {create};
\node[lbl] (l95) at (2907.7,2111) {ht};
\node[lbl] (l96) at (1288.4,1316) {prev\\next};
\node[lbl] (l97) at (1980.5,1344.6) {next};
\node[lbl] (l98) at (915,1766.4) {comment};
\node[lbl] (l99) at (1289,1727) {comment\\parser\_name};
\end{tikzpicture}
\end{document}
